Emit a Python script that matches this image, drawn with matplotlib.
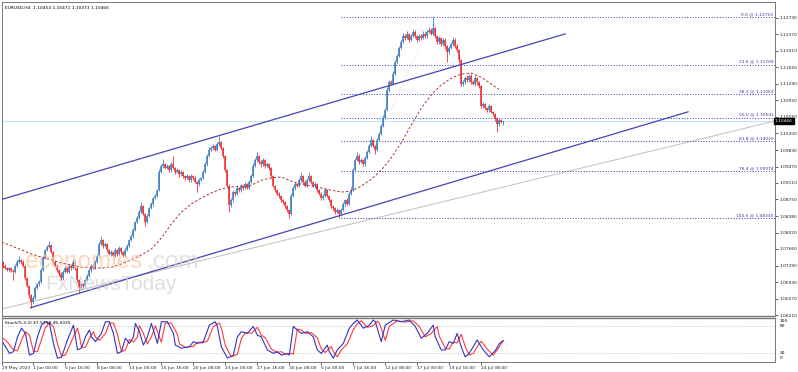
import numpy as np
import matplotlib.pyplot as plt
import matplotlib.transforms as mtransforms

# ---- data (H4 bars, index 0..251) ----
open0 = 1.0733
closes = [
    1.0738, 1.0729, 1.0724, 1.0720, 1.0724, 1.0718, 1.0716, 1.0729, 1.0738, 1.0742, 1.0738, 1.0729,
    1.0702, 1.0685, 1.0664, 1.0650, 1.0659, 1.0680, 1.0689, 1.0694, 1.0720, 1.0746, 1.0764, 1.0771,
    1.0775, 1.0759, 1.0738, 1.0729, 1.0720, 1.0711, 1.0702, 1.0716, 1.0724, 1.0716, 1.0729, 1.0724,
    1.0738, 1.0724, 1.0698, 1.0680, 1.0689, 1.0685, 1.0698, 1.0707, 1.0720, 1.0729, 1.0724, 1.0738,
    1.0751, 1.0777, 1.0786, 1.0773, 1.0777, 1.0764, 1.0755, 1.0759, 1.0751, 1.0764, 1.0755, 1.0768,
    1.0759, 1.0751, 1.0764, 1.0773, 1.0786, 1.0794, 1.0808, 1.0825, 1.0834, 1.0847, 1.0860, 1.0843,
    1.0825, 1.0838, 1.0856, 1.0865, 1.0878, 1.0882, 1.0895, 1.0935, 1.0948, 1.0952, 1.0944, 1.0948,
    1.0939, 1.0952, 1.0944, 1.0935, 1.0939, 1.0930, 1.0935, 1.0926, 1.0922, 1.0926, 1.0917, 1.0926,
    1.0922, 1.0913, 1.0908, 1.0917, 1.0922, 1.0935, 1.0952, 1.0970, 1.0983, 1.0988, 1.0992, 1.0983,
    1.0996, 1.1001, 1.0988, 1.0970, 1.0939, 1.0904, 1.0863, 1.0873, 1.0891, 1.0887, 1.0900, 1.0895,
    1.0904, 1.0900, 1.0908, 1.0900, 1.0913, 1.0926, 1.0948, 1.0961, 1.0970, 1.0957, 1.0952, 1.0961,
    1.0948, 1.0952, 1.0944, 1.0926, 1.0904, 1.0895, 1.0887, 1.0882, 1.0873, 1.0869, 1.0860, 1.0852,
    1.0843, 1.0882, 1.0900, 1.0908, 1.0904, 1.0917, 1.0926, 1.0913, 1.0904, 1.0917, 1.0926, 1.0913,
    1.0904, 1.0908, 1.0895, 1.0887, 1.0878, 1.0882, 1.0895, 1.0882, 1.0873, 1.0860, 1.0856, 1.0847,
    1.0852, 1.0843, 1.0852, 1.0865, 1.0873, 1.0865, 1.0887, 1.0895, 1.0939, 1.0961, 1.0970, 1.0957,
    1.0961, 1.0952, 1.0966, 1.0979, 1.0992, 1.1005, 1.0992, 1.0983, 1.1005, 1.1018, 1.1036, 1.1053,
    1.1071, 1.1115, 1.1132, 1.1128, 1.1150, 1.1176, 1.1190, 1.1207, 1.1220, 1.1233, 1.1229, 1.1238,
    1.1225, 1.1233, 1.1242, 1.1233, 1.1225, 1.1233, 1.1229, 1.1238, 1.1233, 1.1242, 1.1247, 1.1238,
    1.1251, 1.1233, 1.1220, 1.1229, 1.1216, 1.1225, 1.1212, 1.1198, 1.1207, 1.1216, 1.1225, 1.1212,
    1.1203, 1.1181, 1.1128, 1.1132, 1.1141, 1.1137, 1.1146, 1.1132, 1.1128, 1.1141, 1.1132, 1.1124,
    1.1080, 1.1084, 1.1075, 1.1071, 1.1080, 1.1067, 1.1062, 1.1053, 1.1040, 1.1049, 1.10454, 1.10466,
]
# wick lengths in pips above max(open, close) / below min(open, close)
wick_up = [
    3, 2, 4, 2, 3, 2, 3, 4, 3, 8, 2, 3,
    2, 3, 2, 3, 4, 5, 3, 4, 5, 4, 3, 4,
    9, 3, 2, 4, 3, 2, 4, 3, 5, 2, 4, 3,
    5, 2, 3, 2, 4, 3, 3, 4, 2, 5, 3, 4,
    4, 5, 9, 3, 4, 2, 3, 4, 2, 5, 3, 4,
    3, 2, 4, 5, 3, 4, 5, 3, 4, 5, 9, 3,
    2, 4, 3, 5, 3, 4, 3, 6, 4, 12, 3, 4,
    3, 5, 18, 3, 4, 3, 4, 2, 3, 4, 3, 5,
    3, 4, 2, 4, 3, 5, 4, 5, 6, 4, 5, 3,
    5, 13, 3, 2, 3, 2, 4, 5, 4, 3, 5, 3,
    4, 3, 5, 3, 4, 5, 6, 5, 9, 3, 4, 5,
    3, 4, 2, 3, 2, 3, 2, 3, 2, 3, 2, 3,
    2, 6, 5, 4, 3, 5, 9, 3, 4, 5, 9, 3,
    3, 4, 3, 2, 3, 4, 5, 3, 2, 3, 2, 3,
    3, 2, 4, 5, 3, 5, 4, 6, 5, 4, 9, 4,
    4, 3, 5, 4, 5, 9, 3, 2, 5, 4, 5, 6,
    5, 6, 4, 5, 6, 4, 5, 4, 5, 6, 4, 6,
    3, 5, 6, 4, 3, 5, 4, 6, 4, 5, 6, 4,
    24, 3, 2, 5, 3, 5, 3, 2, 4, 5, 6, 3,
    4, 3, 2, 5, 4, 6, 5, 3, 4, 5, 3, 2,
    2, 4, 3, 2, 5, 3, 2, 3, 2, 4, 3, 0.5,
]
wick_dn = [
    3, 4, 2, 3, 4, 3, 18, 2, 3, 2, 4, 3,
    4, 3, 5, 13, 4, 3, 2, 4, 3, 2, 3, 2,
    3, 2, 4, 3, 5, 4, 3, 4, 2, 3, 2, 4,
    3, 4, 5, 10, 3, 4, 3, 2, 3, 4, 3, 2,
    3, 2, 3, 4, 2, 5, 3, 4, 3, 2, 4, 3,
    4, 3, 2, 3, 2, 3, 4, 2, 3, 2, 3, 2,
    9, 3, 2, 3, 4, 2, 3, 2, 3, 4, 3, 2,
    4, 3, 2, 4, 3, 5, 3, 4, 5, 3, 4, 3,
    4, 3, 17, 3, 2, 3, 2, 3, 2, 3, 4, 3,
    2, 3, 4, 5, 4, 3, 15, 4, 3, 4, 2, 3,
    3, 4, 3, 2, 3, 2, 3, 2, 3, 4, 5, 3,
    4, 3, 5, 4, 3, 4, 3, 4, 3, 4, 3, 5,
    9, 3, 2, 4, 3, 2, 3, 4, 3, 2, 3, 4,
    3, 4, 5, 3, 4, 5, 3, 2, 4, 3, 5, 4,
    3, 10, 3, 2, 4, 3, 2, 3, 2, 3, 2, 4,
    3, 4, 3, 2, 3, 2, 3, 9, 2, 3, 2, 3,
    2, 3, 4, 2, 3, 2, 3, 2, 3, 2, 4, 3,
    4, 3, 2, 4, 5, 3, 4, 2, 3, 4, 3, 2,
    3, 5, 4, 3, 5, 4, 6, 22, 4, 3, 4, 5,
    4, 6, 5, 4, 3, 4, 5, 4, 3, 4, 5, 4,
    5, 4, 3, 4, 5, 3, 4, 5, 17, 4, 3, 7.7,
]

# moving average, read every 5 bars
ma_step = 5
ma_vals = [
    1.0781, 1.0773, 1.0764, 1.0755, 1.0748, 1.0742, 1.0735, 1.0731, 1.0726, 1.0724,
    1.0724, 1.0726, 1.0733, 1.0742, 1.0753, 1.0766, 1.0790, 1.0821, 1.0847, 1.0865,
    1.0878, 1.0889, 1.0898, 1.0902, 1.0904, 1.0906, 1.0917, 1.0922, 1.0924, 1.0915,
    1.0908, 1.0904, 1.0900, 1.0895, 1.0891, 1.0893, 1.0904, 1.0919, 1.0939, 1.0966,
    1.0999, 1.1038, 1.1075, 1.1104, 1.1126, 1.1141, 1.1150, 1.1152, 1.1143, 1.1128,
    1.1113,
]

# stochastic %K / %D turning points (bar index, value)
k_bar = [0, 1, 4, 6, 8, 10, 12, 14, 16, 18, 20, 22, 24, 26, 28, 30, 33, 36, 37, 38,
         40, 42, 44, 45, 47, 50, 52, 54, 56, 58, 60, 62, 64, 66, 67, 69, 71, 73, 75, 77,
         78, 80, 83, 86, 87, 90, 94, 96, 98, 101, 104, 107, 108, 110, 113, 116, 118, 120, 123, 126,
         128, 130, 133, 136, 138, 140, 143, 144, 146, 148, 150, 153, 156, 158, 160, 163, 164, 166, 168, 171,
         174, 176, 178, 181, 184, 186, 187, 190, 192, 196, 200, 204, 207, 210, 213, 216, 217, 220, 222, 224,
         226, 228, 230, 232, 234, 237, 238, 241, 244, 247, 249, 251]
k_val = [49, 41, 18, 22, 56, 76, 64, 14, 18, 56, 83, 91, 87, 41, 7, 9, 49, 83, 56, 26,
         30, 56, 72, 56, 45, 64, 91, 91, 64, 18, 22, 53, 41, 56, 87, 68, 37, 56, 87, 56,
         41, 91, 91, 64, 37, 30, 33, 45, 41, 45, 83, 91, 80, 33, 7, 14, 56, 68, 64, 80,
         60, 56, 26, 18, 22, 14, 18, 14, 80, 72, 64, 68, 56, 26, 18, 37, 22, 7, 26, 41,
         76, 87, 95, 76, 83, 95, 91, 45, 83, 95, 91, 95, 80, 53, 64, 83, 56, 26, 26, 45,
         41, 64, 33, 10, 18, 41, 49, 26, 10, 24, 40, 47.58]
d_bar = [1, 3, 6, 8, 10, 12, 14, 16, 18, 20, 22, 24, 26, 28, 30, 32, 35, 38, 39, 40,
         42, 44, 46, 47, 49, 52, 54, 56, 58, 60, 62, 64, 66, 68, 69, 71, 73, 75, 77, 79,
         80, 82, 85, 88, 89, 92, 96, 98, 100, 103, 106, 109, 110, 112, 115, 118, 120, 122, 125, 128,
         130, 132, 135, 138, 140, 142, 145, 146, 148, 150, 152, 155, 158, 160, 162, 165, 166, 168, 170, 173,
         176, 178, 180, 183, 186, 188, 189, 192, 194, 198, 202, 206, 209, 212, 215, 218, 219, 222, 224, 226,
         228, 230, 232, 234, 236, 239, 240, 243, 246, 248, 250, 251]
d_val = [52, 44, 26, 24, 48, 68, 60, 22, 22, 50, 78, 88, 80, 40, 12, 14, 46, 76, 58, 32,
         32, 52, 68, 56, 48, 64, 88, 88, 62, 22, 26, 50, 44, 56, 82, 64, 40, 56, 82, 56,
         44, 88, 88, 62, 40, 32, 34, 44, 42, 46, 80, 88, 76, 36, 10, 16, 52, 66, 64, 78,
         60, 54, 28, 20, 22, 16, 18, 16, 74, 72, 64, 66, 54, 28, 20, 34, 22, 10, 26, 40,
         72, 86, 93, 78, 82, 92, 88, 48, 80, 93, 90, 93, 80, 56, 64, 80, 58, 30, 28, 44,
         42, 62, 34, 14, 18, 40, 46, 28, 14, 26, 40, 46.43]

# drawn objects: (bar, price) anchors
upper_ch_bar, upper_ch_px = [-0.5, 282], [1.0874, 1.1238]
lower_ch_bar, lower_ch_px = [14.5, 343.5], [1.0637, 1.1067]
gray_bar, gray_px = [0, 387], [1.0634, 1.1047]
fib_from, fib_to = (170, 1.08330), (216, 1.12753)
fib_levels = ["0.0", "23.6", "38.2", "50.0", "61.8", "76.4", "100.0"]
fib_prices = [1.12753, 1.11709, 1.11063, 1.10541, 1.10020, 1.09374, 1.08330]
bid = 1.10466

price_ticks = [1.12730, 1.12370, 1.12010, 1.11650, 1.11290, 1.10920, 1.10560, 1.10200, 1.09830, 1.09470,
               1.09110, 1.08750, 1.08380, 1.08020, 1.07660, 1.07290, 1.06930, 1.06570, 1.06210]
time_bars = [0, 16, 32, 48, 64, 80, 96, 112, 128, 144, 160, 176, 192, 208, 224, 240]
time_labels = ["29 May 2023", "1 Jun 00:00", "5 Jun 16:00", "8 Jun 08:00", "13 Jun 00:00", "15 Jun 16:00",
               "20 Jun 08:00", "23 Jun 00:00", "27 Jun 16:00", "30 Jun 08:00", "5 Jul 00:00", "7 Jul 16:00",
               "12 Jul 08:00", "17 Jul 00:00", "19 Jul 16:00", "24 Jul 08:00"]

# ---- figure ----
W, H = 798, 372
FS = 3.2
UP, DOWN = "#3f7fc2", "#f03030"
FIB = "#3434a8"
CH = "#4444b4"
FRAME = "#7a7a7a"

fig = plt.figure(figsize=(W / 100, H / 100), dpi=100)


def box(x0, y0, x1, y1):
    return [x0 / W, 1 - y1 / H, (x1 - x0) / W, (y1 - y0) / H]


ax = fig.add_axes(box(1.5, 1.5, 775, 316))
axs = fig.add_axes(box(1.5, 317.5, 775, 361.7), sharex=ax)

closes = np.array(closes)
opens = np.concatenate([[open0], closes[:-1]])
highs = np.maximum(opens, closes) + np.array(wick_up) * 1e-4
lows = np.minimum(opens, closes) - np.array(wick_dn) * 1e-4
x = np.arange(len(closes))
cols = np.where(closes >= opens, UP, DOWN)

ax.axhline(bid, color="#bfe6f1", lw=0.8, zorder=1)
ax.plot(gray_bar, gray_px, color="#c6c6c6", lw=0.8, zorder=1)
ax.plot([fib_from[0], fib_to[0]], [fib_from[1], fib_to[1]], color="#e8cdd8", lw=0.6,
        ls=(0, (1, 1.5)), zorder=1)
ax.hlines(fib_prices, fib_from[0], 387, colors=FIB, lw=0.7, linestyles=(0, (1, 1.8)), zorder=2)
tr = mtransforms.blended_transform_factory(ax.transAxes, ax.transData)
for lev, p in zip(fib_levels, fib_prices):
    ax.text(0.998, p + 0.0002, f"{lev} @ {p:.5f}", transform=tr, ha="right", va="bottom",
            fontsize=FS, color=FIB)

ax.vlines(x, lows, highs, colors=cols, lw=0.6, zorder=3)
ax.vlines(x, opens, closes, colors=cols, lw=1.15, zorder=3)

ax.plot(np.arange(len(ma_vals)) * ma_step, ma_vals, color="#a83434", lw=0.7, ls=(0, (2.5, 2)), zorder=4)
ax.plot(upper_ch_bar, upper_ch_px, color=CH, lw=0.9, zorder=4)
ax.plot(lower_ch_bar, lower_ch_px, color=CH, lw=0.9, zorder=4)

# watermark
ax.text(0.0304, 0.153, "economies", transform=ax.transAxes, fontsize=17.5, family="Liberation Sans",
        color="#fbc6a0", alpha=0.7, zorder=5)
ax.text(0.188, 0.153, ".com", transform=ax.transAxes, fontsize=17.5, family="Liberation Sans",
        color="#d6d6d6", alpha=0.7, zorder=5)
ax.text(0.056, 0.083, "FxNewsToday", transform=ax.transAxes, fontsize=15, family="Liberation Sans",
        color="#cdcdcd", alpha=0.65, zorder=5)

ax.set_xlim(0.25, 387)
ax.set_ylim(1.06189, 1.13092)
ax.yaxis.tick_right()
ax.set_yticks(price_ticks)
ax.set_yticklabels([f"{t:.5f}" for t in price_ticks])
ax.tick_params(axis="y", labelsize=FS, length=2, width=0.5, pad=1.5, colors="#222222")
ax.tick_params(axis="x", bottom=False, labelbottom=False)
ax.text(1.0, bid, f"{bid:.5f}", transform=tr, ha="left", va="center", fontsize=FS, color="white",
        bbox=dict(facecolor="black", edgecolor="black", pad=0.9), zorder=6)
fig.text(5 / W, 1 - 8 / H, "EURUSD,H4  1.10454 1.10471 1.10373 1.10466", fontsize=FS, va="center")

# stochastic panel
axs.axhline(80, color="#bdbdbd", lw=0.5, ls=(0, (2, 2)))
axs.axhline(20, color="#bdbdbd", lw=0.5, ls=(0, (2, 2)))
axs.plot(d_bar, d_val, color="#ff3a3a", lw=0.8)
axs.plot(k_bar, k_val, color="#3434c0", lw=0.8)
axs.set_ylim(-1.2, 100.7)
axs.set_yticks([])
trs = mtransforms.blended_transform_factory(axs.transAxes, axs.transData)
for v, pos in zip(["100", "80", "20", "0"], [92.5, 80, 20, 8]):
    axs.text(1.006, pos, v, transform=trs, ha="left", va="center", fontsize=FS)
axs.text(0.005, 0.93, "Stoch(5,3,3) 47.5758 46.4325", transform=axs.transAxes, va="top", fontsize=FS)
axs.set_xticks(time_bars)
axs.set_xticklabels(time_labels, ha="left")
axs.tick_params(axis="x", labelsize=FS, length=2, width=0.5, pad=0.8, colors="#222222")

for a in (ax, axs):
    for s in a.spines.values():
        s.set_color(FRAME)
        s.set_linewidth(0.7)
ax.spines["bottom"].set_linewidth(1.0)
axs.spines["top"].set_linewidth(1.0)

fig.savefig("out.png", dpi=100)
